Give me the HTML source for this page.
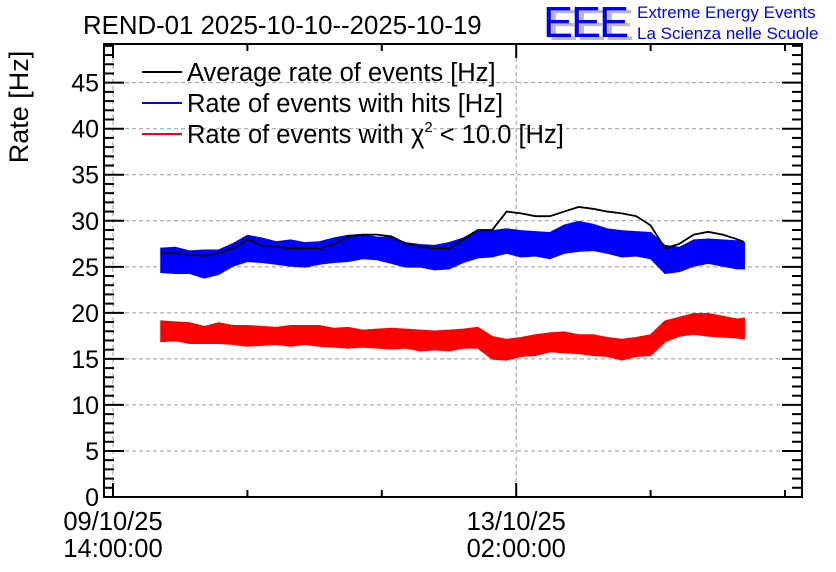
<!DOCTYPE html>
<html><head><meta charset="utf-8"><style>
body{margin:0;background:#fff;}
svg{display:block;font-family:"Liberation Sans",sans-serif;}
</style></head><body>
<svg id="chart" width="836" height="572" viewBox="0 0 836 572">
<text x="83" y="34" font-size="25.8">REND-01 2025-10-10--2025-10-19</text>
<g>
<text x="548" y="40" font-size="44" fill="#bbb" letter-spacing="-2" textLength="84" lengthAdjust="spacingAndGlyphs">EEE</text>
<text x="543" y="37" font-size="44" fill="#0000ff" letter-spacing="-2" textLength="84" lengthAdjust="spacingAndGlyphs">EEE</text>
<text x="637" y="18" font-size="17" fill="#0000ff">Extreme Energy Events</text>
<text x="637" y="39" font-size="17" fill="#0000ff">La Scienza nelle Scuole</text>
</g>
<text transform="translate(28,107) rotate(-90)" text-anchor="middle" font-size="27">Rate [Hz]</text>
<g id="grid"></g>
<g id="series"></g>
<g id="axes"></g>
<g>
<g><line x1="142" y1="72" x2="182" y2="72" stroke="#000" stroke-width="2"/><text x="187" y="81" font-size="25.5">Average rate of events [Hz]</text></g>
<g><line x1="142" y1="103" x2="182" y2="103" stroke="#0000ff" stroke-width="2"/><text x="187" y="112" font-size="25.5">Rate of events with hits [Hz]</text></g>
<g><line x1="142" y1="134" x2="182" y2="134" stroke="#ff0000" stroke-width="2"/><text x="187" y="143" font-size="25.5">Rate of events with χ<tspan font-size="15" dy="-11">2</tspan><tspan dy="11"> &lt; 10.0 [Hz]</tspan></text></g>
</g>
</svg>
<script>
const hours=[10,13,16,19,22,25,28,31,34,37,40,43,46,49,52,55,58,61,64,67,70,73,76,79,82,85,88,91,94,97,100,103,106,109,112,115,118,121,124,127,130,131.5];
const avgRate=[26.5,26.5,26.3,26.2,26.5,27,28,27.3,27.2,27,27,27,27.5,28.3,28.5,28.5,28.3,27.5,27.2,27,27,28,29,29,31,30.8,30.5,30.5,31,31.5,31.3,31,30.8,30.5,29.5,27,27.5,28.5,28.8,28.5,28,27.7];
const hitsRate=[25.7,25.7,25.5,25.3,25.5,26.3,27,26.8,26.5,26.5,26.3,26.5,26.8,27,27.2,27,26.8,26.3,26.2,26,26.2,26.8,27.5,27.5,27.8,27.5,27.5,27.3,28,28.3,28.2,27.8,27.5,27.5,27.3,25.8,25.8,26.5,26.7,26.5,26.3,26.2];
const hitsSpread=[1.3,1.4,1.2,1.5,1.3,1.2,1.4,1.3,1.2,1.4,1.3,1.2,1.3,1.4,1.3,1.2,1.4,1.3,1.2,1.3,1.4,1.3,1.5,1.4,1.3,1.4,1.3,1.4,1.5,1.6,1.4,1.3,1.4,1.3,1.4,1.5,1.3,1.4,1.3,1.4,1.5,1.4];
const chiRate=[18,18,17.8,17.6,17.8,17.6,17.5,17.5,17.5,17.5,17.6,17.5,17.3,17.3,17.2,17.2,17.2,17.2,17,17,17,17.2,17.3,16.2,16,16.3,16.5,16.8,16.8,16.6,16.5,16.3,16,16.3,16.5,18,18.5,18.8,18.7,18.5,18.3,18.3];
const chiSpread=[1.1,1.0,1.1,0.9,1.1,1.0,1.1,1.0,0.9,1.1,1.0,1.1,1.0,1.1,0.9,1.0,1.1,1.0,1.1,1.0,1.1,1.0,1.1,1.2,1.1,1.0,1.1,1.0,1.1,1.0,1.1,1.0,1.1,1.0,1.1,1.1,1.0,1.1,1.2,1.1,1.0,1.1];
const yTicks=[0,5,10,15,20,25,30,35,40,45];
const xTickHours=[0,84];
const xTickLabels=[["09/10/25","14:00:00"],["13/10/25","02:00:00"]];

const L=104,R=802,T=44,B=497,YMAX=49.2;
const X0=113,PXH=4.8;
const xs=h=>X0+h*PXH;
const ys=v=>B-(B-T)*v/YMAX;
const NS="http://www.w3.org/2000/svg";
function mk(tag,attrs,parent){const e=document.createElementNS(NS,tag);for(const k in attrs)e.setAttribute(k,attrs[k]);parent.appendChild(e);return e;}
const grid=document.getElementById('grid'),ser=document.getElementById('series'),ax=document.getElementById('axes');

yTicks.forEach(v=>{if(v===0)return;const g=mk('line',{x1:L,x2:R,y1:ys(v),y2:ys(v),stroke:'#999','stroke-dasharray':'4,3','stroke-width':1},grid);

});
xTickHours.forEach(h=>{const g=mk('line',{x1:xs(h),x2:xs(h),y1:T,y2:B,stroke:'#999','stroke-dasharray':'4,3','stroke-width':1},grid);

});

function band(mid,spr,color,name){
 let up=hours.map((h,i)=>xs(h)+','+ys(mid[i]+spr[i]));
 let dn=hours.map((h,i)=>xs(h)+','+ys(mid[i]-spr[i])).reverse();
 const p=mk('polygon',{points:up.concat(dn).join(' '),fill:color,stroke:color,'stroke-width':1.5,'stroke-linejoin':'miter'},ser);
 
 
}
band(hitsRate,hitsSpread,'#0000ff','hits-rate-series');
band(chiRate,chiSpread,'#ff0000','chi2-rate-series');
const avg=mk('polyline',{points:hours.map((h,i)=>xs(h)+','+ys(avgRate[i])).join(' '),fill:'none',stroke:'#000','stroke-width':1.8},ser);



const fr=mk('rect',{x:L,y:T,width:R-L,height:B-T,fill:'none',stroke:'#000','stroke-width':2},ax);


for(let v=0;v<=YMAX;v+=1){const len=v%5===0?20:10;
 mk('line',{x1:L,x2:L+len,y1:ys(v),y2:ys(v),stroke:'#000','stroke-width':2},ax);
 mk('line',{x1:R-len,x2:R,y1:ys(v),y2:ys(v),stroke:'#000','stroke-width':2},ax);}
yTicks.forEach(v=>{const t=mk('text',{x:L-5,y:ys(v)+9,'text-anchor':'end','font-size':25},ax);t.textContent=v;

});
for(let h=-28;h<=28*5;h+=28){const x=xs(h);if(x<L||x>R)continue;const len=h%84===0?14:7;
 mk('line',{x1:x,x2:x,y1:B,y2:B-len,stroke:'#000','stroke-width':2},ax);
 mk('line',{x1:x,x2:x,y1:T,y2:T+len,stroke:'#000','stroke-width':2},ax);}
xTickHours.forEach((h,i)=>{xTickLabels[i].forEach((s,j)=>{const t=mk('text',{x:xs(h),y:530+j*27,'text-anchor':'middle','font-size':25.5},ax);t.textContent=s;

});});
</script>
</body></html>
